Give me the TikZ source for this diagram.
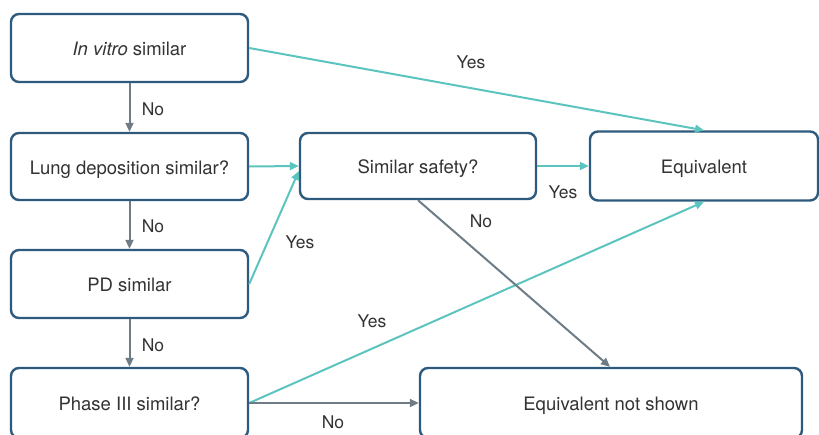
\documentclass[tikz,border=0pt]{standalone}
\usepackage{fontspec}
\setmainfont{TeX Gyre Heros}
\usepackage{xcolor}
\usetikzlibrary{arrows.meta,positioning}
\definecolor{boxblue}{HTML}{2E5A7E}
\definecolor{yesteal}{HTML}{5CC4BE}
\definecolor{nogray}{HTML}{6E7C86}
\definecolor{txtgray}{HTML}{333333}
\tikzset{
  flowbox/.style={draw=boxblue, line width=2.4pt, rounded corners=8pt, fill=white, align=center, inner sep=0pt, text height=15pt, text depth=0pt, text=txtgray, font=\fontsize{18.5}{22}\selectfont},
  yesarrow/.style={-{Triangle[length=9pt,width=8pt]}, draw=yesteal, line width=2pt},
  noarrow/.style={-{Triangle[length=9pt,width=8pt]}, draw=nogray, line width=2pt},
  edgelabel/.style={text=txtgray, font=\fontsize{17.5}{21}\selectfont}
}
\begin{document}
\begin{tikzpicture}[x=1pt, y=-1pt]
\useasboundingbox (0,0) rectangle (819,434);
% left column
\node[flowbox, minimum width=237pt, minimum height=68pt] (invitro) at (129.5,48) {\textit{In vitro} similar};
\node[flowbox, minimum width=237pt, minimum height=67pt] (lung) at (129.5,166.5) {Lung deposition similar?};
\node[flowbox, minimum width=237pt, minimum height=68pt] (pd) at (129.5,284) {PD similar};
\node[flowbox, minimum width=237pt, minimum height=70pt] (phase) at (129.5,403) {Phase III similar?};
% right part
\node[flowbox, minimum width=236pt, minimum height=66pt] (safety) at (418,166) {Similar safety?};
\node[flowbox, minimum width=228pt, minimum height=69pt] (equiv) at (704,166) {Equivalent};
\node[flowbox, minimum width=382pt, minimum height=70pt] (notshown) at (611,403) {Equivalent not shown};
% downward No arrows
\draw[noarrow] (invitro) -- node[edgelabel, right=8pt, yshift=-2pt] {No} (lung);
\draw[noarrow] (lung) -- node[edgelabel, right=8pt, yshift=-1pt] {No} (pd);
\draw[noarrow] (pd) -- node[edgelabel, right=8pt, yshift=-2pt] {No} (phase);
% Yes arrows
\draw[yesarrow] (invitro.east) -- (equiv.north);
\node[edgelabel] (yes1) at (471,62) {Yes};
\draw[yesarrow] (lung.east) -- (safety.west);
\draw[yesarrow] (pd.east) -- ([yshift=-5pt]safety.west);
\node[edgelabel] (yes2) at (300,242) {Yes};
\draw[yesarrow] (phase.east) -- (equiv.south);
\node[edgelabel] (yes3) at (372,321) {Yes};
\draw[yesarrow] (safety.east) -- (equiv.west);
\node[edgelabel] (yes4) at (563,192) {Yes};
% No arrows to not shown
\draw[noarrow] (phase.east) -- (notshown.west);
\node[edgelabel] (no4) at (333,422) {No};
\draw[noarrow] (safety.south) -- ([xshift=-1pt]notshown.north);
\node[edgelabel] (no5) at (481,221) {No};
\end{tikzpicture}
\end{document}
